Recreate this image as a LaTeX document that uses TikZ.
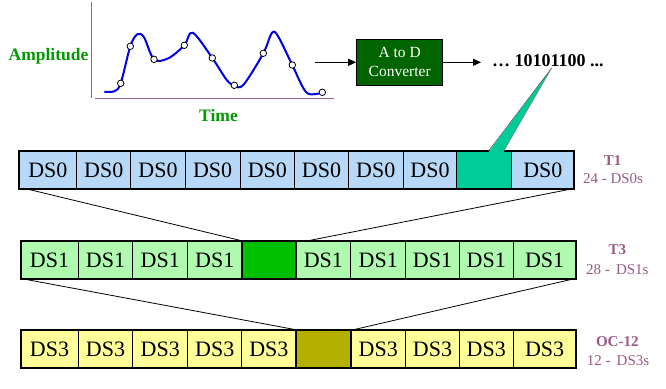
\documentclass[tikz,border=0pt]{standalone}
\usepackage{fontspec}
\setmainfont{Liberation Serif}
\usetikzlibrary{arrows.meta,calc}
\definecolor{lblue}{RGB}{184,216,248}
\definecolor{lgreen}{RGB}{176,250,176}
\definecolor{lyellow}{RGB}{255,255,153}
\definecolor{tealc}{RGB}{0,204,153}
\definecolor{greenc}{RGB}{0,192,0}
\definecolor{olivec}{RGB}{180,176,0}
\definecolor{ampgreen}{RGB}{0,153,0}
\definecolor{boxgreen}{RGB}{0,100,0}
\definecolor{mauve}{RGB}{153,90,134}
\definecolor{axisc}{RGB}{160,100,140}
\definecolor{curveblue}{RGB}{0,0,230}
\begin{document}
\begin{tikzpicture}[x=1pt,y=-1pt,
  cell/.style={draw, line width=1pt, minimum height=38.5pt,
    inner sep=0pt, outer sep=0pt, anchor=west, font=\fontsize{22}{22}\selectfont},
  sample/.style={circle, draw, fill=white, line width=0.8pt, minimum size=6.5pt, inner sep=0pt},
  ttl/.style={text=mauve, font=\fontsize{15}{15}\selectfont\bfseries, anchor=base},
  sub/.style={text=mauve, font=\fontsize{15}{15}\selectfont, anchor=base},
  conn/.style={line width=0.8pt},
  arr/.style={line width=0.8pt, -{Triangle[length=8pt,width=7pt]}}]
\useasboundingbox (0,0) rectangle (666,388);

% --- analog signal ---
\draw[axisc, line width=1pt] (91.3,2) -- (91.3,98);
\draw[axisc, line width=1pt] (95,98.3) -- (334,98.3);
\draw[curveblue, line width=2pt, line join=round] plot[smooth, tension=0.55] coordinates {
 (104.3,91.7) (114.3,91.3) (120.7,83.3) (130.3,46.3) (137.3,34.3) (144,37.3)
 (154,59.3) (168.3,58.3) (184.3,45.3) (192.7,32.7) (212.3,58) (226.7,80)
 (234.3,85.3) (243.3,85) (263.3,53.3) (272,32.7) (278.3,36.7) (292.3,65)
 (306.7,92.7) (322.3,92.3)};
\foreach \p [count=\k] in {(120.7,83.3),(130.3,46.3),(154,59.3),(184.3,45.3),(212.3,58),
  (234.3,85.3),(263.3,53.3),(292.3,65),(322.3,92.3)}
  \node[sample] (s\k) at \p {};
\node[text=ampgreen, font=\fontsize{17.5}{17.5}\selectfont\bfseries, anchor=base] (amp) at (48.5,60) {Amplitude};
\node[text=ampgreen, font=\fontsize{17.5}{17.5}\selectfont\bfseries, anchor=base] (time) at (218.5,121.7) {Time};

% --- A to D converter ---
\node[draw, fill=boxgreen, line width=1pt, minimum width=86pt, minimum height=46pt, inner sep=0pt,
  text=white, align=center, font=\fontsize{15.5}{19}\selectfont] (adc) at (399.7,62.3) {A to D\\Converter};
\coordinate (sig) at (315,62.3);
\coordinate (out) at (481,62.3);
\draw[arr] (sig) -- (adc.west);
\draw[arr] (adc.east) -- (out);
\node[font=\fontsize{18}{18}\selectfont\bfseries, anchor=base west, inner sep=0pt] (bits) at (492,66) {… 10101100 ...};

% --- T1 row ---
\foreach \i/\l/\r in {1/19/76.7, 2/76.7/130.7, 3/130.7/185.3, 4/185.3/240, 5/240/294.7,
  6/294.7/348.3, 7/348.3/403.3, 8/403.3/456.7, 9/456.7/511.7, 10/511.7/574}{
  \ifnum\i=9
    \node[cell, fill=tealc, minimum width={\r-\l}] (a\i) at (\l,170) {};
  \else
    \node[cell, fill=lblue, minimum width={\r-\l}] (a\i) at (\l,170) {DS0};
  \fi
}
\draw[line width=2pt] (a1.north west) rectangle (a10.south east);

% --- T3 row ---
\foreach \i/\l/\r in {1/20.7/78.3, 2/78.3/132.7, 3/132.7/187.7, 4/187.7/241.7, 5/241.7/296,
  6/296/350.7, 7/350.7/405.7, 8/405.7/459.3, 9/459.3/513.3, 10/513.3/576}{
  \ifnum\i=5
    \node[cell, fill=greenc, minimum width={\r-\l}] (b\i) at (\l,260) {};
  \else
    \node[cell, fill=lgreen, minimum width={\r-\l}] (b\i) at (\l,260) {DS1};
  \fi
}
\draw[line width=2pt] (b1.north west) rectangle (b10.south east);
\draw[line width=2pt] (b5.north west) rectangle (b5.south east);

% --- OC-12 row ---
\foreach \i/\l/\r in {1/20.7/78.3, 2/78.3/132.7, 3/132.7/187.7, 4/187.7/241.7, 5/241.7/296,
  6/296/350.7, 7/350.7/405.7, 8/405.7/459.3, 9/459.3/513.3, 10/513.3/576}{
  \ifnum\i=6
    \node[cell, fill=olivec, minimum width={\r-\l}] (c\i) at (\l,349) {};
  \else
    \node[cell, fill=lyellow, minimum width={\r-\l}] (c\i) at (\l,349) {DS3};
  \fi
}
\draw[line width=2pt] (c1.north west) rectangle (c10.south east);
\draw[line width=2pt] (c6.north west) rectangle (c6.south east);

% --- callout wedge ---
\coordinate (tip) at (551.7,68);
\fill[tealc] (tip) -- (488.5,152) -- (503.5,152) -- cycle;
\draw[line width=0.5pt, black!70] (tip) -- (488.5,151);
\draw[line width=0.5pt, black!50] (tip) -- (503.5,151);

% --- connectors ---
\draw[conn] ($(a1.south west)+(9,0)$) -- (b5.north west);
\draw[conn] ($(a10.south east)+(-4,0)$) -- ($(b6.north west)+(12,0)$);
\draw[conn] ($(b1.south west)+(4.3,0)$) -- (c6.north west);
\draw[conn] ($(b10.south east)+(-4,0)$) -- ($(c6.north east)+(2.6,0)$);

% --- labels ---
\node[ttl] (t1) at (612.7,165) {T1};
\node[sub] (t1s) at (613,183.3) {24 - DS0s};
\node[ttl] (t3) at (617.3,254.5) {T3};
\node[sub] (t3s) at (617.3,274) {28 - \,DS1s};
\node[ttl] (oc) at (617.3,346) {OC-12};
\node[sub] (ocs) at (618,365) {12 - \,DS3s};
\end{tikzpicture}
\end{document}
